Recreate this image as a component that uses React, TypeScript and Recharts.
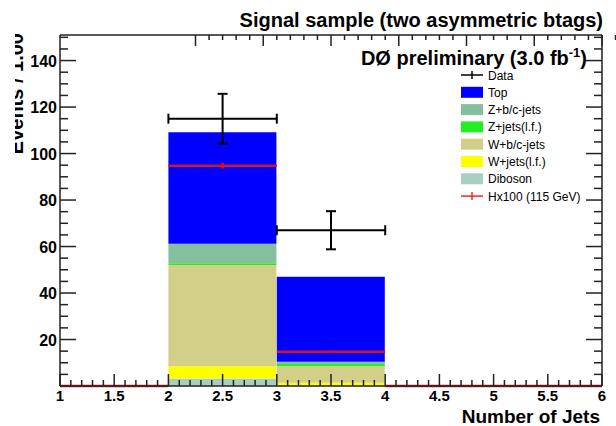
import React from 'react'
import { ComposedChart, Bar, Scatter, ErrorBar, XAxis, YAxis } from 'recharts'

// bins of "Number of Jets" (width 1.0)
const bins = ['1-2', '2-3', '3-4', '4-5', '5-6']
const binCenters = [1.5, 2.5, 3.5, 4.5, 5.5]

// stacked backgrounds, bottom to top
const diboson = [0, 3.2, 0.2, 0, 0]
const wLight = [0, 5.3, 1.2, 0, 0]
const wHeavy = [0, 43.6, 7.1, 0, 0]
const zLight = [0, 0.7, 1.0, 0, 0]
const zHeavy = [0, 8.4, 0.9, 0, 0]
const topQuark = [0, 48.0, 36.6, 0, 0]

// observed data
const dataX = [2.5, 3.5]
const dataY = [115, 67]
const dataErr = [10.7, 8.2]

// signal x100
const higgs = [0, 94.8, 14.7, 0, 0]
const higgsErr = [0, 1.2, 0.5, 0, 0]

const xMajorLabels = ['1', '1.5', '2', '2.5', '3', '3.5', '4', '4.5', '5', '5.5', '6']
const yMajorLabels = [20, 40, 60, 80, 100, 120, 140]

const legendItems = [
  { label: 'Data', color: '#000000', kind: 'cross' },
  { label: 'Top', color: '#0000ff', kind: 'box' },
  { label: 'Z+b/c-jets', color: '#85bf9e', kind: 'box' },
  { label: 'Z+jets(l.f.)', color: '#22ee22', kind: 'box' },
  { label: 'W+b/c-jets', color: '#d3cf89', kind: 'box' },
  { label: 'W+jets(l.f.)', color: '#ffff00', kind: 'box' },
  { label: 'Diboson', color: '#a9cec2', kind: 'box' },
  { label: 'Hx100 (115 GeV)', color: '#ff2020', kind: 'cross' },
]

const FONT = '"Liberation Sans", Arial, Helvetica, sans-serif'
const AXIS = '#222'

const xTicks: number[] = []
for (let i = 10; i <= 60; i++) xTicks.push(i / 10)
const yTicks: number[] = []
for (let v = 5; v <= 150; v += 5) yTicks.push(v)

const isXMajor = (v: number) => Math.round(v * 10) % 5 === 0

const barData = bins.map((bin, i) => ({
  bin,
  diboson: diboson[i],
  wLight: wLight[i],
  wHeavy: wHeavy[i],
  zLight: zLight[i],
  zHeavy: zHeavy[i],
  top: topQuark[i],
}))

const dataPoints = dataX.map((x, i) => ({ x, y: dataY[i], ex: 0.5, ey: dataErr[i] }))
const higgsPoints = binCenters.map((x, i) => ({ x, y: higgs[i], ex: 0.5, ey: higgsErr[i] }))

const BottomTick = (props: any) => {
  const { x, y, payload } = props
  const major = isXMajor(payload.value)
  const label = xMajorLabels.find(l => Math.abs(parseFloat(l) - payload.value) < 1e-6)
  return (
    <g>
      <line x1={x} x2={x} y1={y} y2={y - (major ? 12 : 6)} stroke={AXIS} strokeWidth={1.5} />
      {label && (
        <text x={x} y={y + 15} textAnchor="middle" fontSize={15} fontWeight="bold" fontFamily={FONT} fill="#000">
          {label}
        </text>
      )}
    </g>
  )
}

const TopTick = (props: any) => {
  const { x, y, payload } = props
  const major = isXMajor(payload.value)
  return <line x1={x} x2={x} y1={y} y2={y + (major ? 11 : 5)} stroke={AXIS} strokeWidth={1.5} />
}

const LeftTick = (props: any) => {
  const { x, y, payload } = props
  const major = payload.value % 20 === 0
  return (
    <g>
      <line x1={x} x2={x + (major ? 16 : 8)} y1={y} y2={y} stroke={AXIS} strokeWidth={1.5} />
      {major && yMajorLabels.includes(payload.value) && (
        <text x={x - 3} y={y + 6} textAnchor="end" fontSize={16} fontWeight="bold" fontFamily={FONT} fill="#000">
          {payload.value}
        </text>
      )}
    </g>
  )
}

const RightTick = (props: any) => {
  const { x, y, payload } = props
  const major = payload.value % 20 === 0
  return <line x1={x} x2={x - (major ? 16 : 8)} y1={y} y2={y} stroke={AXIS} strokeWidth={1.5} />
}

const noMarker = () => <g />

export default function App() {
  return (
    <div style={{ position: 'absolute', left: 0, top: 0, width: 616, height: 426, background: '#fff' }}>
      <ComposedChart
        width={616}
        height={426}
        data={barData}
        margin={{ top: 34, right: 13, bottom: 39, left: 59 }}
        barCategoryGap={0}
        barGap={0}
      >
        <XAxis xAxisId="bins" dataKey="bin" hide height={0} />
        <XAxis
          xAxisId="num"
          dataKey="x"
          type="number"
          domain={[1, 6]}
          allowDataOverflow
          ticks={xTicks}
          interval={0}
          height={1}
          tickSize={0}
          tickMargin={0}
          tickLine={false}
          axisLine={{ stroke: AXIS, strokeWidth: 1.5 }}
          tick={<BottomTick />}
        />
        <XAxis
          xAxisId="top"
          orientation="top"
          type="number"
          domain={[1, 6]}
          allowDataOverflow
          ticks={xTicks}
          interval={0}
          height={1}
          tickSize={0}
          tickMargin={0}
          tickLine={false}
          axisLine={{ stroke: AXIS, strokeWidth: 1.5 }}
          tick={<TopTick />}
        />
        <YAxis
          yAxisId="left"
          type="number"
          domain={[0, 151]}
          allowDataOverflow
          ticks={yTicks}
          interval={0}
          width={1}
          tickSize={0}
          tickMargin={0}
          tickLine={false}
          axisLine={{ stroke: AXIS, strokeWidth: 1.5 }}
          tick={<LeftTick />}
        />
        <YAxis
          yAxisId="right"
          orientation="right"
          type="number"
          domain={[0, 151]}
          allowDataOverflow
          ticks={yTicks}
          interval={0}
          width={1}
          tickSize={0}
          tickMargin={0}
          tickLine={false}
          axisLine={{ stroke: AXIS, strokeWidth: 1.5 }}
          tick={<RightTick />}
        />
        <YAxis yAxisId="pts" dataKey="y" type="number" domain={[0, 151]} allowDataOverflow hide width={0} />
        <Bar xAxisId="bins" yAxisId="left" dataKey="diboson" stackId="mc" fill="#a9cec2" isAnimationActive={false} />
        <Bar xAxisId="bins" yAxisId="left" dataKey="wLight" stackId="mc" fill="#ffff00" isAnimationActive={false} />
        <Bar xAxisId="bins" yAxisId="left" dataKey="wHeavy" stackId="mc" fill="#d3cf89" isAnimationActive={false} />
        <Bar xAxisId="bins" yAxisId="left" dataKey="zLight" stackId="mc" fill="#22ee22" isAnimationActive={false} />
        <Bar xAxisId="bins" yAxisId="left" dataKey="zHeavy" stackId="mc" fill="#85bf9e" isAnimationActive={false} />
        <Bar xAxisId="bins" yAxisId="left" dataKey="top" stackId="mc" fill="#0000ff" isAnimationActive={false} />
        <Scatter
          xAxisId="num"
          yAxisId="pts"
          data={higgsPoints}
          shape={noMarker}
          isAnimationActive={false}
        >
          <ErrorBar dataKey="ex" direction="x" width={0} stroke="#d01818" strokeWidth={2.5} />
          <ErrorBar dataKey="ey" direction="y" width={0} stroke="#ff0000" strokeWidth={2.5} />
        </Scatter>
        <Scatter
          xAxisId="num"
          yAxisId="pts"
          data={dataPoints}
          shape={noMarker}
          isAnimationActive={false}
        >
          <ErrorBar dataKey="ex" direction="x" width={5} stroke="#000" strokeWidth={2} />
          <ErrorBar dataKey="ey" direction="y" width={5} stroke="#000" strokeWidth={2} />
        </Scatter>
      </ComposedChart>

      <svg
        width={616}
        height={426}
        style={{ position: 'absolute', left: 0, top: 0, pointerEvents: 'none' }}
        fontFamily={FONT}
      >
        <defs>
          <clipPath id="ylabClip">
            <rect x={15} y={0} width={30} height={200} />
          </clipPath>
        </defs>
        <text x={603} y={27} textAnchor="end" fontSize={20} fontWeight="bold" fill="#000">
          Signal sample (two asymmetric btags)
        </text>
        <text x={587} y={65} textAnchor="end" fontSize={20} fontWeight="bold" fill="#000">
          DØ preliminary (3.0 fb<tspan fontSize={13} dy={-8}>-1</tspan>
          <tspan dy={8}>)</tspan>
        </text>
        <g clipPath="url(#ylabClip)">
          <text
            transform="translate(23,33) rotate(-90)"
            textAnchor="end"
            fontSize={20}
            fontWeight="bold"
            fill="#000"
          >
            Events / 1.00
          </text>
        </g>
        <text x={600} y={423} textAnchor="end" fontSize={19} fontWeight="bold" fill="#000">
          Number of Jets
        </text>
        {legendItems.map((item, i) => {
          const cy = 75 + i * 17.3
          return (
            <g key={item.label}>
              {item.kind === 'box' ? (
                <rect x={461} y={cy - 5.5} width={22} height={11} fill={item.color} />
              ) : (
                <g stroke={item.color} strokeWidth={1.5}>
                  <line x1={461} x2={483} y1={cy} y2={cy} />
                  <line x1={472} x2={472} y1={cy - 4} y2={cy + 4} />
                </g>
              )}
              <text x={488} y={cy + 4.5} fontSize={12} fill="#000">
                {item.label}
              </text>
            </g>
          )
        })}
      </svg>
    </div>
  )
}
